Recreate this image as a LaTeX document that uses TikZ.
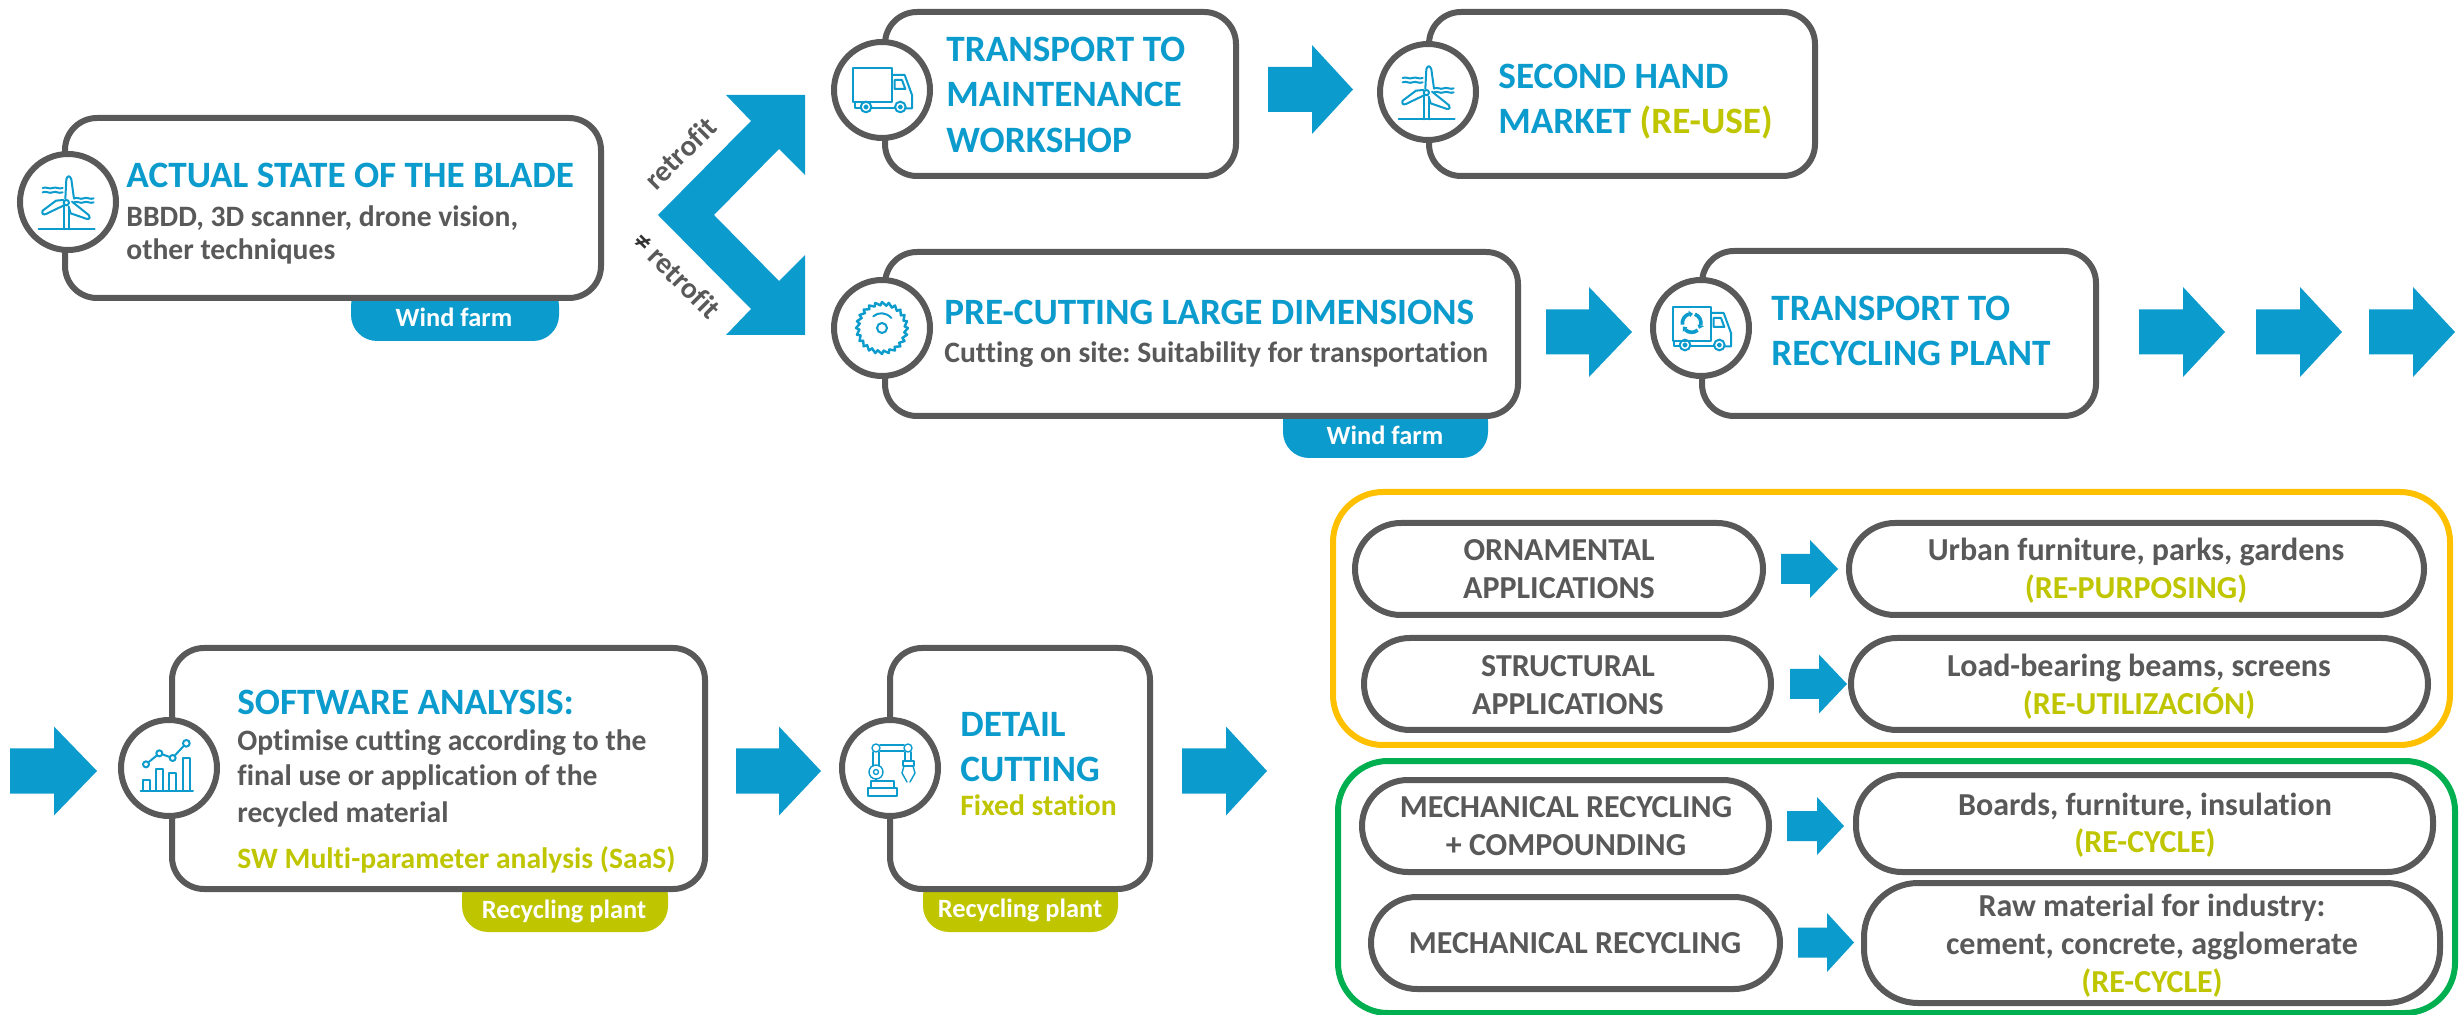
\documentclass[tikz,border=0pt]{standalone}
\usepackage{fontspec}
\setmainfont[Ligatures=NoCommon]{Carlito}
\usetikzlibrary{fit}
\definecolor{wbblue}{HTML}{0C9BCD}
\definecolor{wbgray}{HTML}{595959}
\definecolor{wbolive}{HTML}{BFC600}
\definecolor{wbyellow}{HTML}{FFC000}
\definecolor{wbgreen}{HTML}{00B050}
\newcommand{\blockarrow}[6]{\fill[wbblue] (#1,#4-#6) -- (#2,#4-#6) -- (#2,#4-#5) -- (#3,#4) -- (#2,#4+#5) -- (#2,#4+#6) -- (#1,#4+#6) -- cycle;}
\newcommand{\fnt}[1]{\fontsize{#1}{#1}\selectfont\bfseries\frenchspacing}
\newcommand{\truckparts}{%
   \draw (180,105) -- (218,105) -- (240,165) -- (240,205) -- (222,205);
   \draw (188,120) -- (210,120) -- (220,147) -- (188,147) -- cycle;
   \draw (188,205) -- (118,205) (87,205) -- (70,205) -- (70,188);
   \draw (102,201) circle[radius=16] (102,201) circle[radius=5];
   \draw (205,201) circle[radius=16] (205,201) circle[radius=5];
}
\tikzset{
 flowbox/.style={draw=wbgray,fill=white,line width=3pt,rounded corners=16pt,inner sep=0pt},
 pillbox/.style={draw=wbgray,fill=white,line width=3pt,rounded corners=23pt,inner sep=0pt},
 groupbox/.style={draw=#1,fill=white,line width=3pt,rounded corners=25pt,inner sep=0pt},
 iconring/.style={circle,draw=wbgray,fill=white,line width=3pt,minimum size=48pt,inner sep=0pt},
 tabblue/.style={fill=wbblue},
 ttl/.style={anchor=base west,inner sep=0pt,text=wbblue,font=\fnt{18.6}},
 txt/.style={anchor=base west,inner sep=0pt,text=wbgray,font=\fnt{14.8}},
 lime/.style={anchor=base west,inner sep=0pt,text=wbolive,font=\fnt{14.8}},
 tabtxt/.style={anchor=base,inner sep=0pt,text=white,font=\fnt{13.2}},
 ctr/.style={anchor=base,inner sep=0pt,text=wbgray,font=\fnt{16}},
 ctrlime/.style={anchor=base,inner sep=0pt,text=wbolive,font=\fnt{16}},
 ico/.style={draw=wbblue,line width=1pt,line join=round,line cap=round},
 turbine/.pic={\begin{scope}[scale=.3333,shift={(-148,-156)},ico]
   \draw (60,238) -- (228,238) (135,168) -- (135,238) (152,172) -- (152,238);
   \draw (143,158) circle[radius=8];
   \draw (140,146) -- (143,88) .. controls (146,76) and (154,76) .. (158,88) -- (166,146);
   \draw (134,150) -- (112,152) -- (72,182) .. controls (68,190) and (74,196) .. (82,192) -- (136,166);
   \draw (150,170) -- (156,190) -- (205,207) .. controls (214,208) and (216,200) .. (210,195) -- (160,155);
   \foreach \y in {114,127}{\draw (72,\y) .. controls (85,\y-5) and (90,\y+5) .. (102,\y) .. controls (112,\y-5) and (120,\y+5) .. (132,\y);}
   \foreach \y in {145,157}{\draw (166,\y) .. controls (178,\y-5) and (183,\y+5) .. (195,\y) .. controls (205,\y-5) and (215,\y+5) .. (225,\y);}
 \end{scope}},
 truck/.pic={\begin{scope}[scale=.3333,shift={(-150,-150)},ico]
   \draw (63,83) rectangle (180,185);
   \truckparts
 \end{scope}},
 recycletruck/.pic={\begin{scope}[scale=.3333,shift={(-150,-150)},ico]
   \draw (65,86) rectangle (180,188);
   \truckparts
   \begin{scope}[shift={(122,135)},line width=1.8pt,line cap=butt]
     \foreach \a in {-70,50,170}{
       \draw (\a:28) arc[start angle=\a,end angle=\a+85,radius=28];
       \fill[wbblue] (\a+85:18) -- (\a+85:38) -- (\a+108:28) -- cycle;
     }
   \end{scope}
 \end{scope}},
 sawblade/.pic={\begin{scope}[scale=.3333,shift={(-150,-150)},ico]
   \draw (150,150) circle[radius=15];
   \draw (124,115) .. controls (138,102) and (162,102) .. (178,120);
   \begin{scope}[shift={(150,150)},line width=1.2pt]
     \draw (0:78) \foreach \a in {15,30,...,360} { -- (\a-4:68) -- (\a:78)};
   \end{scope}
 \end{scope}},
 chart/.pic={\begin{scope}[scale=.3333,shift={(-150,-150)},ico]
   \draw (65,218) -- (222,218);
   \draw (72,218) -- (72,186) -- (92,186) -- (92,218);
   \draw (110,218) -- (110,153) -- (133,153) -- (133,218);
   \draw (151,218) -- (151,166) -- (172,166) -- (172,218);
   \draw (191,218) -- (191,119) -- (212,119) -- (212,218);
   \draw (81,139) circle[radius=9] (121,106) circle[radius=9] (161,120) circle[radius=9] (202,76) circle[radius=10];
   \draw (88,133) -- (114,112) (130,109) -- (152,117) (167,113) -- (195,83);
 \end{scope}},
 robot/.pic={\begin{scope}[ico,line width=.7pt]
   \draw (-22,28) rectangle (7,20) (-19,20) rectangle (4,13);
   \draw (-14,4) circle[radius=7] (-14,4) circle[radius=2.5];
   \draw (-17,-2) -- (-17,-16) (-11,-2) -- (-11,-16);
   \draw (-14,-20) circle[radius=4] (18,-20) circle[radius=4];
   \draw (-10,-23) -- (14,-23) (-10,-17) -- (14,-17);
   \draw (15,-16) -- (15,-7) (21,-16) -- (21,-7);
   \draw (13,-7) rectangle (24,-2);
   \draw (14,-2) -- (12,5) -- (17,14) (23,-2) -- (25,5) -- (20,14);
   \draw (-14,11) -- (-14,13);
 \end{scope}}
}
\begin{document}
\begin{tikzpicture}[x=.5pt,y=-.5pt]
\useasboundingbox (0,0) rectangle (2464,1015);
% ---- row 1: actual state
\fill[tabblue,rounded corners=13pt] (351,280) -- (351,341) -- (559,341) -- (559,280) -- cycle;
\node[flowbox,fit={(65,118)(601,298)}] (actual) {};
\node[iconring] (ringA) at (68,202) {};
\pic at (ringA.center) {turbine};
\node[ttl] (actualT) at (126,188) {ACTUAL STATE OF THE BLADE};
\node[txt] (actualB1) at (126,227) {BBDD, 3D scanner, drone vision,};
\node[txt] (actualB2) at (126,260) {other techniques};
\node[tabtxt] (tabA) at (454,327) {Wind farm};
% chevron
\fill[wbblue] (726,95) -- (805,95) -- (805,175) -- (779,149) -- (714,215) -- (779,281) -- (805,255) -- (805,335) -- (726,335) -- (751,309) -- (658,215) -- (751,121) -- cycle;
\node[anchor=center,inner sep=0pt,rotate=45,text=wbgray,font=\fnt{14.8}] (lblyes) at (680,153) {retrofit};
\node[anchor=center,inner sep=0pt,rotate=-45,text=wbgray,font=\fnt{14.8}] (lblno) at (677,275) {{\color{black!80}≠} retrofit};
% transport
\node[flowbox,fit={(885,12)(1236,176)}] (transport) {};
\node[iconring] (ringB) at (882,90) {};
\pic at (ringB.center) {truck};
\node[ttl] (tr1) at (946,62) {TRANSPORT TO};
\node[ttl] (tr2) at (946,107) {MAINTENANCE};
\node[ttl] (tr3) at (946,153) {WORKSHOP};
\blockarrow{1268}{1312}{1353}{89.5}{44.5}{22.5}
% second hand
\node[flowbox,fit={(1429,12)(1815,176)}] (second) {};
\node[iconring] (ringC) at (1428,92) {};
\pic at (ringC.center) {turbine};
\node[ttl] (sh1) at (1498,89) {SECOND HAND};
\node[ttl] (sh2) at (1498,134) {MARKET {\color{wbolive}(RE-USE)}};
% pre-cutting
\fill[tabblue,rounded corners=13pt] (1283,395) -- (1283,458) -- (1488,458) -- (1488,395) -- cycle;
\node[flowbox,fit={(885,252)(1518,416)}] (precut) {};
\node[iconring] (ringD) at (882,328) {};
\pic at (ringD.center) {sawblade};
\node[ttl] (pc1) at (944,325) {PRE-CUTTING LARGE DIMENSIONS};
\node[txt] (pc2) at (944,363) {Cutting on site: Suitability for transportation};
\node[tabtxt] (tabB) at (1385,445) {Wind farm};
\blockarrow{1546}{1589}{1632}{332}{45}{22.5}
% transport to recycling
\node[flowbox,fit={(1702,251)(2096,416)}] (trplant) {};
\node[iconring] (ringE) at (1701,328) {};
\pic at (ringE.center) {recycletruck};
\node[ttl] (tp1) at (1771,321) {TRANSPORT TO};
\node[ttl] (tp2) at (1771,366) {RECYCLING PLANT};
\blockarrow{2139}{2183}{2225}{332}{45}{22.5}
\blockarrow{2256}{2300}{2342}{332}{45}{22.5}
\blockarrow{2369}{2413}{2455}{332}{45}{22.5}
% software
\blockarrow{10}{54}{97}{771}{44.5}{22.5}
\fill[wbolive,rounded corners=13pt] (462,870) -- (462,932) -- (668,932) -- (668,870) -- cycle;
\node[flowbox,fit={(172,648)(705,889)}] (software) {};
\node[iconring] (ringF) at (169,768) {};
\pic at (ringF.center) {chart};
\node[ttl] (sw0) at (237,715) {SOFTWARE ANALYSIS:};
\node[txt] (sw1) at (237,750) {Optimise cutting according to the};
\node[txt] (sw2) at (237,785) {final use or application of the};
\node[txt] (sw3) at (237,822) {recycled material};
\node[lime] (sw4) at (237,868) {SW Multi-parameter analysis (SaaS)};
\node[tabtxt] (tabC) at (564,918) {Recycling plant};
\blockarrow{736}{779}{821}{771}{44.5}{22.5}
% detail
\fill[wbolive,rounded corners=13pt] (923,870) -- (923,932) -- (1118,932) -- (1118,870) -- cycle;
\node[flowbox,fit={(890,648)(1150,889)}] (detail) {};
\node[iconring] (ringG) at (890,768) {};
\pic at (ringG.center) {robot};
\node[ttl] (dt1) at (960,736) {DETAIL};
\node[ttl] (dt2) at (960,781) {CUTTING};
\node[lime] (dt3) at (960,815) {Fixed station};
\node[tabtxt] (tabD) at (1020,917) {Recycling plant};
\blockarrow{1182}{1226}{1267}{771}{44.5}{22.5}
% yellow group
\node[groupbox=wbyellow,fit={(1333,492)(2450,745)}] (grpY) {};
\node[pillbox,fit={(1355,523)(1763,615)}] (orn) {};
\node[ctr] (orn1) at (1559,561) {ORNAMENTAL};
\node[ctr] (orn2) at (1559,599) {APPLICATIONS};
\blockarrow{1781}{1810}{1838}{569}{29}{15}
\node[pillbox,fit={(1849,523)(2424,615)}] (urban) {};
\node[ctr] (urb1) at (2136,561) {Urban furniture, parks, gardens};
\node[ctrlime] (urb2) at (2136,599) {(RE-PURPOSING)};
\node[pillbox,fit={(1364,638)(1771,730)}] (str) {};
\node[ctr] (str1) at (1568,677) {STRUCTURAL};
\node[ctr] (str2) at (1568,715) {APPLICATIONS};
\blockarrow{1790}{1819}{1847}{684}{29.5}{15}
\node[pillbox,fit={(1851,638)(2428,730)}] (load) {};
\node[ctr] (lod1) at (2139,677) {Load-bearing beams, screens};
\node[ctrlime] (lod2) at (2139,715) {(RE-UTILIZACIÓN)};
% green group
\node[groupbox=wbgreen,fit={(1338,761)(2455,1013)}] (grpG) {};
\node[pillbox,fit={(1362,780)(1769,872)}] (mech) {};
\node[ctr] (mc1) at (1566,817) {MECHANICAL RECYCLING};
\node[ctr] (mc2) at (1566,855) {+ COMPOUNDING};
\blockarrow{1787}{1817}{1844}{826}{29}{15}
\node[pillbox,fit={(1856,775)(2433,872)}] (boards) {};
\node[ctr] (bd1) at (2145,815) {Boards, furniture, insulation};
\node[ctrlime] (bd2) at (2145,852) {(RE-CYCLE)};
\node[pillbox,fit={(1371,897)(1780,989)}] (mechb) {};
\node[ctr] (mb1) at (1575,953) {MECHANICAL RECYCLING};
\blockarrow{1798}{1827}{1854}{942.5}{29.5}{15}
\node[pillbox,rounded corners=27pt,fit={(1864,883)(2440,1003)}] (raw) {};
\node[ctr] (rw1) at (2152,916) {Raw material for industry:};
\node[ctr] (rw2) at (2152,954) {cement, concrete, agglomerate};
\node[ctrlime] (rw3) at (2152,992) {(RE-CYCLE)};
\end{tikzpicture}
\end{document}
